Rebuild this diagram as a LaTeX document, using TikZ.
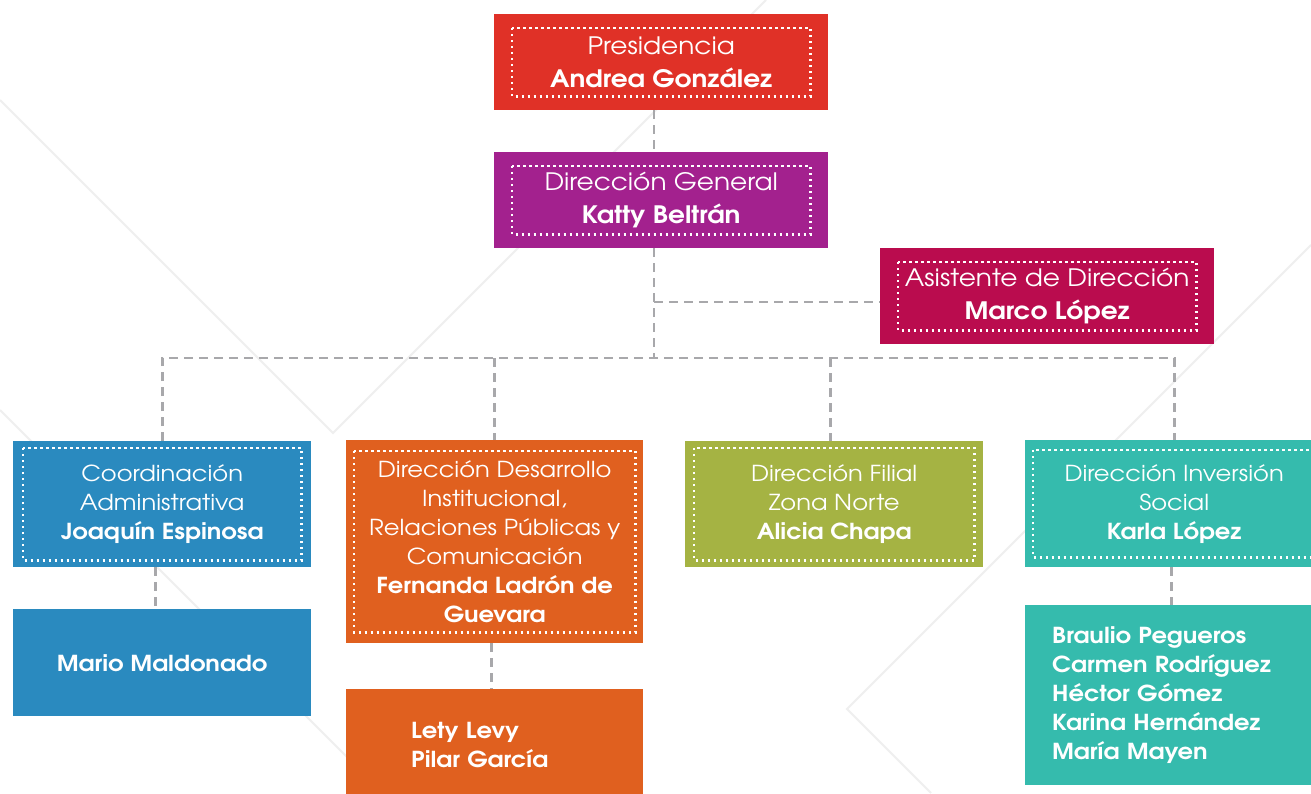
\documentclass[tikz,border=0pt]{standalone}
\usepackage{fontspec}
\setmainfont{texgyreadventor}[Extension=.otf,UprightFont=*-regular,BoldFont=*-bold,FakeStretch=1.1]
\usetikzlibrary{calc}
\definecolor{presred}{HTML}{E03127}
\definecolor{dirpurple}{HTML}{A3218E}
\definecolor{asiscrimson}{HTML}{BA0C4E}
\definecolor{coordblue}{HTML}{2A8ABF}
\definecolor{desaorange}{HTML}{E0601F}
\definecolor{filialgreen}{HTML}{A5B343}
\definecolor{invteal}{HTML}{35BBAD}
\definecolor{linkgray}{HTML}{A8A8AB}
\definecolor{decogray}{HTML}{EFEFEF}
\tikzstyle{unit}=[anchor=north west,inner sep=0pt,text=white,align=center,font=\fontsize{22}{29}\selectfont]
\tikzstyle{topunit}=[unit,minimum width=334pt,minimum height=96pt,font=\fontsize{24}{33}\selectfont]
\tikzstyle{link}=[linkgray,line width=2.7pt,dash pattern=on 9pt off 6pt]
\tikzstyle{dotline}=[white,line width=2.2pt,dash pattern=on 2.2pt off 3.8pt]
\tikzstyle{deco}=[decogray,line width=2pt]
\newcommand{\dotframe}[3]{
\draw[dotline] ($(#1.north west)+(#2,#3)$) rectangle ($(#1.south east)+(-#2,-#3)$);
}

\begin{document}
\begin{tikzpicture}[x=1pt,y=-1pt]
	\useasboundingbox (0,0) rectangle (1311,793);
	\fill[white] (0,0) rectangle (1311,793);
	\clip (0,0) rectangle (1311,793);
	% faint background strokes
	\draw[deco] (0,100) -- (333,433) -- (766,0);
	\draw[deco] (0,410) -- (383,793);
	\draw[deco] (1311,245) -- (847,709) -- (931,793);

	\node[topunit,fill=presred] (pres) at (494,14) {Presidencia\\\textbf{Andrea González}};
	\node[topunit,fill=dirpurple] (dg) at (494,152) {Dirección General\\\textbf{Katty Beltrán}};
	\node[topunit,fill=asiscrimson] (asis) at (880,248) {Asistente de Dirección\\\textbf{Marco López}};

	\node[unit,fill=coordblue,minimum width=298pt,minimum height=126pt] (coord) at (13,441) {Coordinación\\Administrativa\\\textbf{Joaquín Espinosa}};
	\node[unit,fill=desaorange,minimum width=297pt,minimum height=203pt] (desa) at (346,440) {Dirección Desarrollo\\Institucional,\\Relaciones Públicas y\\Comunicación\\\textbf{Fernanda Ladrón de}\\\textbf{Guevara}};
	\node[unit,fill=filialgreen,minimum width=298pt,minimum height=126pt] (filial) at (685,441) {Dirección Filial\\Zona Norte\\\textbf{Alicia Chapa}};
	\node[unit,fill=invteal,minimum width=298pt,minimum height=127pt] (inv) at (1025,440) {Dirección Inversión\\Social\\\textbf{Karla López}};

	\node[unit,fill=coordblue,minimum width=298pt,minimum height=107pt] (mario) at (13,609) {\textbf{Mario Maldonado}};
	\node[unit,fill=desaorange,minimum height=112pt,align=left,text width=167pt,inner xsep=65pt] (lety) at (346,689) {\textbf{Lety Levy}\\\textbf{Pilar García}};
	\node[unit,fill=invteal,minimum height=180pt,align=left,text width=244pt,inner xsep=27pt] (staff) at (1025,605) {\textbf{Braulio Pegueros}\\\textbf{Carmen Rodríguez}\\\textbf{Héctor Gómez}\\\textbf{Karina Hernández}\\\textbf{María Mayen}};

	\dotframe{pres}{18}{14}
	\dotframe{dg}{18}{14}
	\dotframe{asis}{18}{14}
	\dotframe{coord}{10}{7}
	\dotframe{desa}{8}{11}
	\dotframe{filial}{9}{7}
	\dotframe{inv}{8}{10}

	% connectors
	\coordinate (hub) at (654,302);
	\coordinate (bus) at (654,358);
	\draw[link] (pres.south -| hub) -- (dg.north -| hub);
	\draw[link] (dg.south -| hub) -- (bus);
	\draw[link] (hub) -- (hub -| asis.west);
	\draw[link] (coord.north) |- (bus) -| (inv.north);
	\draw[link] (bus -| desa.north) -- (desa.north);
	\draw[link] ([xshift=-4pt]bus -| filial.north) -- ([xshift=-4pt]filial.north);
	\draw[link] ([xshift=-7pt]coord.south) -- ([xshift=-7pt]mario.north);
	\draw[link] ([xshift=-3pt]desa.south) -- ([xshift=-3pt]lety.north);
	\draw[link] ([xshift=-3pt]inv.south) -- ([xshift=-3pt]staff.north);
\end{tikzpicture}
\end{document}
